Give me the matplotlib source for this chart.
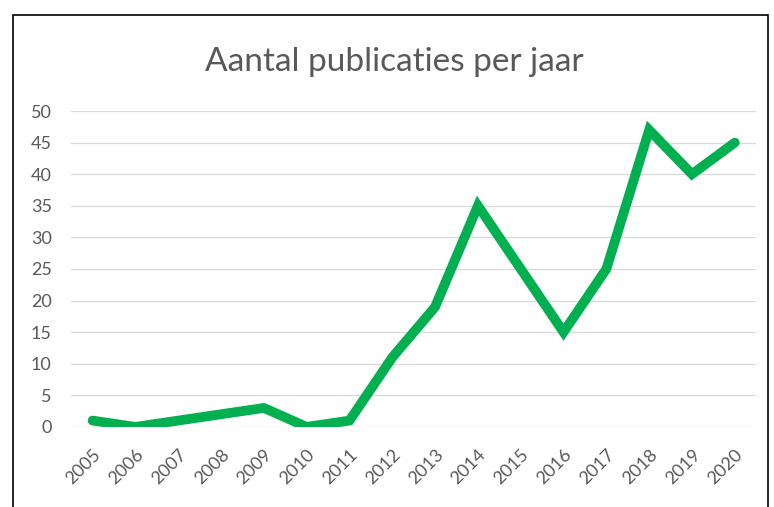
import matplotlib.pyplot as plt
from matplotlib.patches import Rectangle

years = [str(y) for y in range(2005, 2021)]
counts = [1, 0, 1, 2, 3, 0, 1, 11, 19, 35, 25, 15, 25, 47, 40, 45]
yticks = [0, 5, 10, 15, 20, 25, 30, 35, 40, 45, 50]

plt.rcParams['font.family'] = ['Lato', 'DejaVu Sans']

fig = plt.figure(figsize=(7.74, 5.07), dpi=100)
ax = fig.add_axes([0.092, 0.158, 0.885, 0.623])

x = list(range(len(years)))
ax.plot(x, counts, color='#00B050', linewidth=7, solid_joinstyle='miter', solid_capstyle='round', zorder=3)

ax.set_xlim(-0.5, len(years) - 0.5)
ax.set_ylim(0, 50)
ax.set_yticks(yticks)
ax.set_yticklabels([str(t) for t in yticks])
ax.set_xticks(x)
ax.set_xticklabels(years, rotation=45, ha='right', rotation_mode='anchor')

ax.tick_params(axis='both', length=0, colors='#595959', labelsize=13)
ax.tick_params(axis='y', pad=14)
ax.tick_params(axis='x', pad=14)
ax.grid(axis='y', color='#D9D9D9', linewidth=0.9)
ax.set_axisbelow(True)
for s in ax.spines.values():
    s.set_visible(False)

fig.text(0.510, 0.878, 'Aantal publicaties per jaar', ha='center', va='center',
         fontsize=24, color='#595959')

# chart border (bottom edge is cut off in the screenshot)
fig.patches.append(Rectangle((13 / 774, -0.05), (768 - 13) / 774, 1.05 - 15 / 507,
                             transform=fig.transFigure, fill=False, edgecolor='black',
                             linewidth=1.2, clip_on=False))

fig.savefig('out.png', dpi=100)
